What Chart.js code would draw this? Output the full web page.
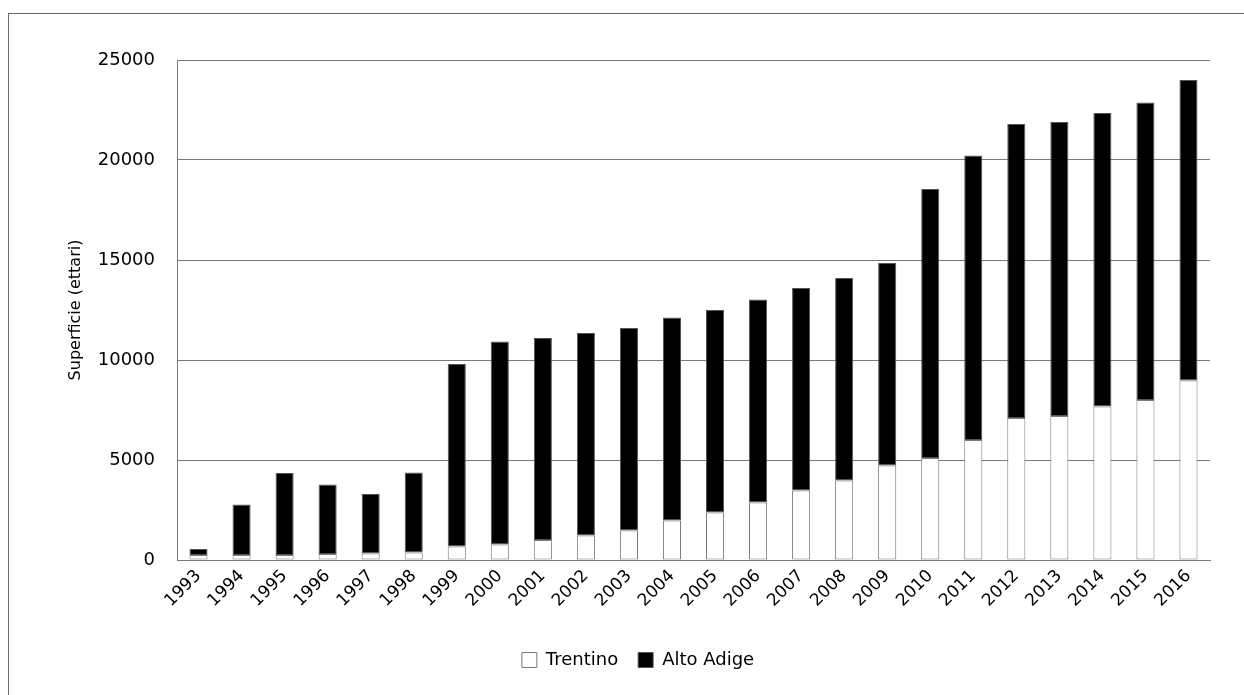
<!DOCTYPE html>
<html>
<head>
<meta charset="utf-8">
<title>Superficie (ettari)</title>
<script src="https://cdn.jsdelivr.net/npm/chart.js@4"></script>
<style>
  html, body { margin: 0; padding: 0; background: #fff; }
  #wrap { position: relative; width: 1244px; height: 695px; overflow: hidden; }
  #frame { position: absolute; left: 8px; top: 13px; width: 1300px; height: 800px;
           border-left: 1px solid #6b6b6b; border-top: 1px solid #6b6b6b; }
  canvas { position: absolute; left: 0; top: 0; }
</style>
</head>
<body>
<div id="wrap">
  <div id="frame"></div>
  <canvas id="myChart" width="1244" height="695"></canvas>
</div>
<script>
// dati
var anni = ['1993', '1994', '1995', '1996', '1997', '1998', '1999', '2000', '2001', '2002', '2003', '2004',
            '2005', '2006', '2007', '2008', '2009', '2010', '2011', '2012', '2013', '2014', '2015', '2016'];
var trentino = [250, 250, 250, 300, 330, 380, 680, 780, 1000, 1220, 1470, 1980,
                2380, 2880, 3470, 3980, 4730, 5100, 6000, 7100, 7200, 7670, 8000, 8970];
var altoAdige = [300, 2520, 4100, 3480, 2970, 4000, 9120, 10140, 10100, 10130, 10130, 10140,
                 10120, 10140, 10130, 10120, 10120, 13450, 14230, 14700, 14700, 14680, 14880, 15030];
var yTicks = [0, 5000, 10000, 15000, 20000, 25000];

Chart.defaults.font.family = '"DejaVu Sans", sans-serif';
Chart.defaults.color = '#000';

var ctx = document.getElementById('myChart').getContext('2d');
var chart = new Chart(ctx, {
    type: 'bar',
    data: {
        labels: anni,
        datasets: [{
            label: 'Trentino',
            data: trentino,
            backgroundColor: '#ffffff',
            borderColor: '#7a7a7a',
            borderWidth: 1,
            borderSkipped: false
        }, {
            label: 'Alto Adige',
            data: altoAdige,
            backgroundColor: '#000000',
            borderColor: '#555555',
            borderWidth: 1,
            borderSkipped: false
        }]
    },
    options: {
        responsive: false,
        animation: false,
        layout: {
            padding: { left: 66, top: 60, right: 34, bottom: 16 }
        },
        datasets: {
            bar: { barPercentage: 0.42, categoryPercentage: 1 }
        },
        scales: {
            x: {
                stacked: true,
                grid: { display: false, drawTicks: false },
                border: { color: '#7a7a7a' },
                ticks: {
                    font: { size: 17 },
                    minRotation: 45,
                    maxRotation: 45,
                    padding: 6
                },
                afterFit: function(scale) { scale.height = 71; }
            },
            y: {
                stacked: true,
                min: 0,
                max: 25000,
                afterBuildTicks: function(scale) {
                    scale.ticks = yTicks.map(function(v) { return { value: v }; });
                },
                grid: { color: '#7a7a7a', drawTicks: false },
                border: { color: '#7a7a7a' },
                ticks: {
                    font: { size: 18 },
                    padding: 22,
                    callback: function(v) { return String(v); }
                },
                title: {
                    display: true,
                    text: 'Superficie (ettari)',
                    font: { size: 16 },
                    padding: 0
                },
                afterFit: function(scale) { scale.width = 111; }
            }
        },
        plugins: {
            legend: {
                position: 'bottom',
                labels: {
                    font: { size: 18 },
                    boxWidth: 15,
                    boxHeight: 15,
                    padding: 20
                }
            },
            tooltip: { enabled: false }
        }
    }
});
</script>
</body>
</html>
